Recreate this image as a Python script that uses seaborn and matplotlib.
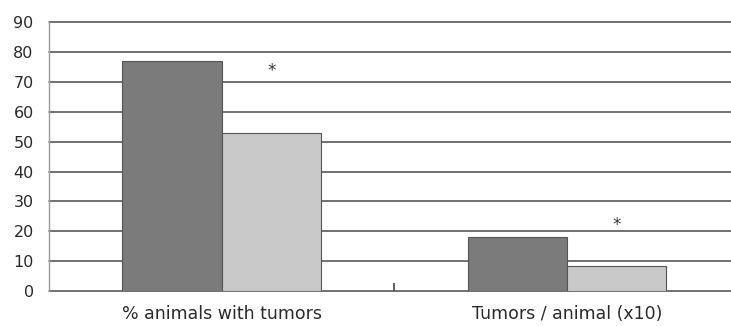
import pandas as pd
import matplotlib
matplotlib.use("Agg")
import matplotlib.pyplot as plt
import seaborn as sns

# data
categories = ["% animals with tumors", "Tumors / animal (x10)"]
groups = ["Group 1", "Group 2"]
dark_values = [77, 18.2]
light_values = [53, 8.4]
star_values = [73.5, 22]
y_ticks = [0, 10, 20, 30, 40, 50, 60, 70, 80, 90]

df = pd.DataFrame({
    "category": categories * 2,
    "group": [groups[0]] * 2 + [groups[1]] * 2,
    "value": dark_values + light_values,
})

sns.set_theme(style="white")
plt.rcParams["font.family"] = ["DejaVu Sans"]

fig = plt.figure(figsize=(7.31, 3.26), dpi=100)
ax = fig.add_axes([0.067, 0.107, 0.933, 0.825])

# gridlines behind bars
for t in y_ticks:
    ax.axhline(t, color="#4a4a4a", lw=1.1, zorder=0, clip_on=False)

sns.barplot(data=df, x="category", y="value", hue="group",
            palette=["#7b7b7b", "#c9c9c9"], width=0.575, gap=0,
            edgecolor="#555555", linewidth=0.8, legend=False, ax=ax, zorder=2)

# significance stars above the light bars
bar_offset = 0.575 / 4
for i, sv in enumerate(star_values):
    ax.text(i + bar_offset, sv, "*", ha="center", va="center",
            fontsize=12, color="#333333", zorder=3)

ax.set_xlim(-0.5, 1.475)
ax.set_ylim(0, 90)
ax.set_yticks(y_ticks)
ax.set_xlabel("")
ax.set_ylabel("")

for s in ["top", "right", "bottom"]:
    ax.spines[s].set_visible(False)
ax.spines["left"].set_color("#9a9a9a")
ax.spines["left"].set_linewidth(1.0)

ax.tick_params(axis="y", length=0, pad=11, labelsize=11.5, labelcolor="#2a2a2a")
ax.tick_params(axis="x", which="major", length=0, pad=10, labelsize=12.5,
               labelcolor="#2a2a2a")
ax.set_xticks([0.5], minor=True)
ax.tick_params(axis="x", which="minor", bottom=True, direction="in", length=6,
               width=1.2, color="#444444")

fig.savefig("out.png", dpi=100)
